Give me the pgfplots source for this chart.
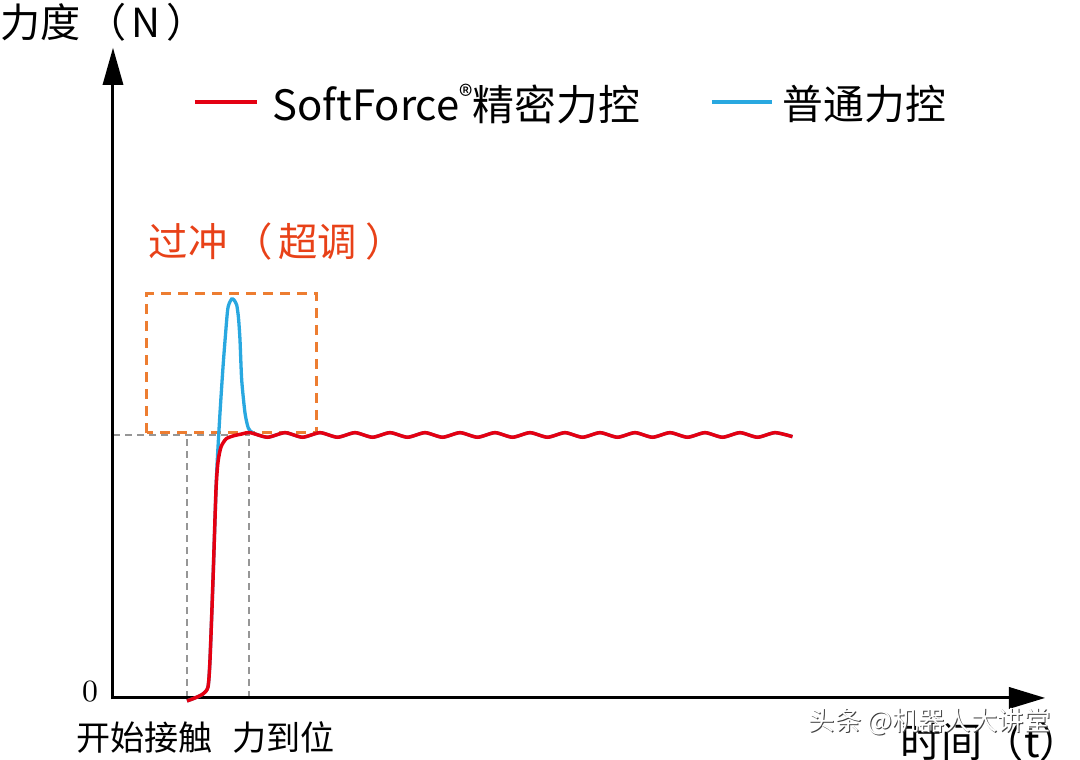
\documentclass[border=0pt]{standalone}
\usepackage{pgfplots}
\pgfplotsset{compat=1.18}
\usepackage{fontspec}
\newfontfamily\cjk{Noto Sans CJK SC}
\definecolor{cred}{RGB}{228,0,18}
\definecolor{cblue}{RGB}{41,168,224}
\definecolor{corange}{RGB}{237,125,49}
\definecolor{ctitle}{RGB}{232,65,24}
\definecolor{cgray}{RGB}{150,150,150}
\begin{document}
\begin{tikzpicture}
\begin{axis}[scale only axis, width=10.8cm, height=7.6cm,
  xmin=-113, xmax=967, ymin=-62, ymax=698, hide axis, clip=false]
% guide lines
\draw[cgray, line width=0.012cm, dash pattern=on 0.07cm off 0.05cm] (axis cs:0,263) -- (axis cs:137,263);
\draw[cgray, line width=0.012cm, dash pattern=on 0.07cm off 0.05cm] (axis cs:74,0) -- (axis cs:74,263);
\draw[cgray, line width=0.012cm, dash pattern=on 0.07cm off 0.05cm] (axis cs:136,0) -- (axis cs:136,263);
% overshoot box
\draw[corange, line width=0.03cm, dash pattern=on 0.1cm off 0.07cm] (axis cs:34,265) rectangle (axis cs:204,404);
% axes
\draw[black, line width=0.03cm] (axis cs:0,-1.5) -- (axis cs:0,615);
\draw[black, line width=0.03cm] (axis cs:-1.5,0) -- (axis cs:898,0);
\fill[black] (axis cs:-10.5,613) -- (axis cs:10.5,613) -- (axis cs:0,650) -- cycle;
\fill[black] (axis cs:896,-11) -- (axis cs:896,11) -- (axis cs:932,0) -- cycle;
% blue curve
\addplot[cblue, line width=0.033cm, smooth, tension=0.4] coordinates {
(74,-3) (82,0) (90,4) (95,11) (97,38) (100,118) (103,208) (104.3,238) (107,285) (110.3,335)
(114.3,385) (116,394) (118.7,399) (121,398) (123.7,393) (125.5,380) (127,358) (128.7,318)
(132,285) (135.3,270) (140,265) (154.5,260.7) (172,265.3) (189.5,260.7) (207,265.3)
(224.5,260.7) (242,265.3) (259.5,260.7) (277,265.3) (294.5,260.7) (312,265.3) (329.5,260.7)
(347,265.3) (364.5,260.7) (382,265.3) (399.5,260.7) (417,265.3) (434.5,260.7) (452,265.3)
(469.5,260.7) (487,265.3) (504.5,260.7) (522,265.3) (539.5,260.7) (557,265.3) (574.5,260.7)
(592,265.3) (609.5,260.7) (627,265.3) (644.5,260.7) (662,265.3) (679.5,261.3)
};
% red curve
\addplot[cred, line width=0.035cm, smooth, tension=0.4] coordinates {
(74,-3) (82,0) (90,4) (95,11) (97,38) (100,118) (103,208) (105,236) (108,251) (113,259)
(120,262) (128,263.8) (137,265.3) (154.5,260.7) (172,265.3) (189.5,260.7) (207,265.3)
(224.5,260.7) (242,265.3) (259.5,260.7) (277,265.3) (294.5,260.7) (312,265.3) (329.5,260.7)
(347,265.3) (364.5,260.7) (382,265.3) (399.5,260.7) (417,265.3) (434.5,260.7) (452,265.3)
(469.5,260.7) (487,265.3) (504.5,260.7) (522,265.3) (539.5,260.7) (557,265.3) (574.5,260.7)
(592,265.3) (609.5,260.7) (627,265.3) (644.5,260.7) (662,265.3) (679.5,261.3)
};
% legend
\draw[cred, line width=0.035cm] (axis cs:82,596) -- (axis cs:144,596);
\node[anchor=west, inner sep=0pt] at (axis cs:159,594) {\cjk\fontsize{11.9pt}{14pt}\selectfont SoftForce\raisebox{0.35em}{\fontsize{8pt}{9pt}\selectfont ®}精密力控};
\draw[cblue, line width=0.035cm] (axis cs:599,596) -- (axis cs:659,596);
\node[anchor=west, inner sep=0pt] at (axis cs:669,594) {\cjk\fontsize{11.6pt}{14pt}\selectfont 普通力控};
% texts
\node[anchor=west, inner sep=0pt] at (axis cs:-113,676) {\cjk\fontsize{11.4pt}{14pt}\selectfont 力度\kern0.15em（\kern0.12em N\kern0.15em）};
\node[anchor=west, inner sep=0pt, text=ctitle] at (axis cs:35,456) {\cjk\fontsize{11.2pt}{14pt}\selectfont 过冲\kern0.15em（\kern0.15em 超调\kern0.2em）};
\node[inner sep=0pt] at (axis cs:-23,6) {\fontsize{8.8pt}{10pt}\selectfont 0};
\node[anchor=west, inner sep=0pt] at (axis cs:-37,-40) {\cjk\fontsize{9.7pt}{12pt}\selectfont 开始接触};
\node[anchor=west, inner sep=0pt] at (axis cs:119,-40) {\cjk\fontsize{9.7pt}{12pt}\selectfont 力到位};
\node[anchor=west, inner sep=0pt] at (axis cs:787,-44) {\cjk\fontsize{11.7pt}{14pt}\selectfont 时间（t）};
% watermark
\node[anchor=west, inner sep=0pt, text=black!75] at (axis cs:696,-25) {\cjk\fontsize{7.5pt}{9pt}\selectfont 头条 @机器人大讲堂};
\node[anchor=west, inner sep=0pt, text=white] at (axis cs:695,-24) {\cjk\fontsize{7.5pt}{9pt}\selectfont 头条 @机器人大讲堂};
\end{axis}
\pgfresetboundingbox
\path[use as bounding box] (current axis.south west) rectangle (current axis.north east);
\end{tikzpicture}
\end{document}
